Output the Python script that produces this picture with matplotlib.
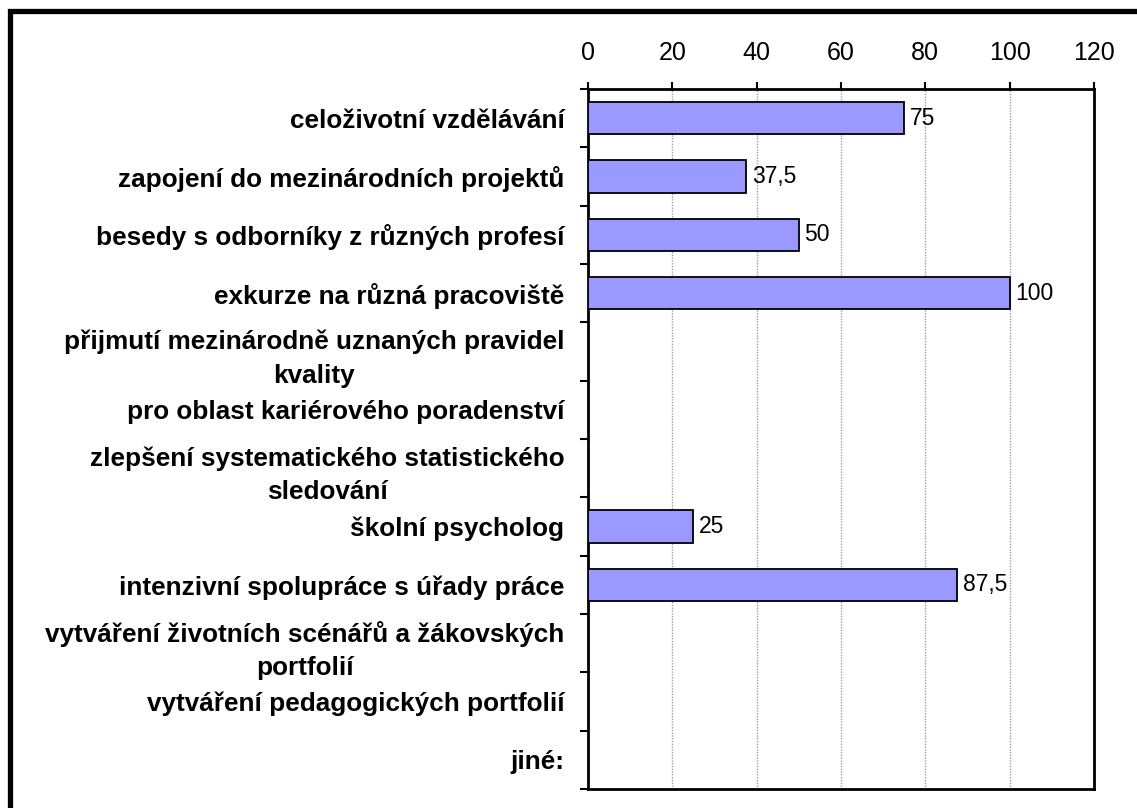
import numpy as np
import matplotlib
matplotlib.use("Agg")
import matplotlib.pyplot as plt
from matplotlib.patches import Rectangle

categories = [
    "celoživotní vzdělávání",
    "zapojení do mezinárodních projektů",
    "besedy s odborníky z různých profesí",
    "exkurze na různá pracoviště",
    "přijmutí mezinárodně uznaných pravidel\nkvality",
    "pro oblast kariérového poradenství",
    "zlepšení systematického statistického\nsledování",
    "školní psycholog",
    "intenzivní spolupráce s úřady práce",
    "vytváření životních scénářů a žákovských\nportfolií",
    "vytváření pedagogických portfolií",
    "jiné:",
]
values = [75, 37.5, 50, 100, np.nan, np.nan, np.nan, 25, 87.5, np.nan, np.nan, np.nan]
x_ticks = [0, 20, 40, 60, 80, 100, 120]

plt.rcParams['font.family'] = ['Liberation Sans', 'DejaVu Sans']

fig = plt.figure(figsize=(11.37, 8.08), dpi=100)
ax = fig.add_axes([588/1137, 1 - 789/808, (1094-588)/1137, (789-89)/808])

y = np.arange(len(categories))
vals = np.array(values, dtype=float)
mask = ~np.isnan(vals)
ax.barh(y[mask], vals[mask], height=0.55, color='#9999FF', edgecolor='black',
        linewidth=1.3, zorder=3)

for yi, v in zip(y[mask], vals[mask]):
    s = ('%g' % v).replace('.', ',')
    ax.annotate(s, (v, yi), xytext=(4, 0), textcoords='offset points',
                va='center', ha='left', fontsize=16.5)

ax.set_xlim(0, 120)
ax.set_ylim(len(categories) - 0.5, -0.5)
ax.set_xticks(x_ticks)
ax.xaxis.tick_top()
ax.tick_params(axis='x', direction='out', length=5, width=1.5, pad=12,
               labelsize=18)

ax.set_yticks(np.arange(-0.5, len(categories), 1.0))
ax.set_yticklabels([])
ax.set_yticks(y, minor=True)
ax.set_yticklabels(categories, minor=True, fontweight='bold', fontsize=18.8,
                   multialignment='center', linespacing=1.5)
ax.tick_params(axis='y', which='major', direction='out', length=6, width=1.5)
ax.tick_params(axis='y', which='minor', length=0, pad=17)

ax.grid(axis='x', color='#a0a0a0', linestyle=(0, (1, 1)), linewidth=1, zorder=0)
for sp in ax.spines.values():
    sp.set_linewidth(2)
    sp.set_color('black')

# figure frame (only top and left visible)
fig.patches.append(Rectangle((9.5/1137, -0.1), 1.2, 1 - 11.5/808 + 0.1,
                             transform=fig.transFigure, fill=False,
                             edgecolor='black', linewidth=3.8))

fig.savefig('out.png', dpi=100)
